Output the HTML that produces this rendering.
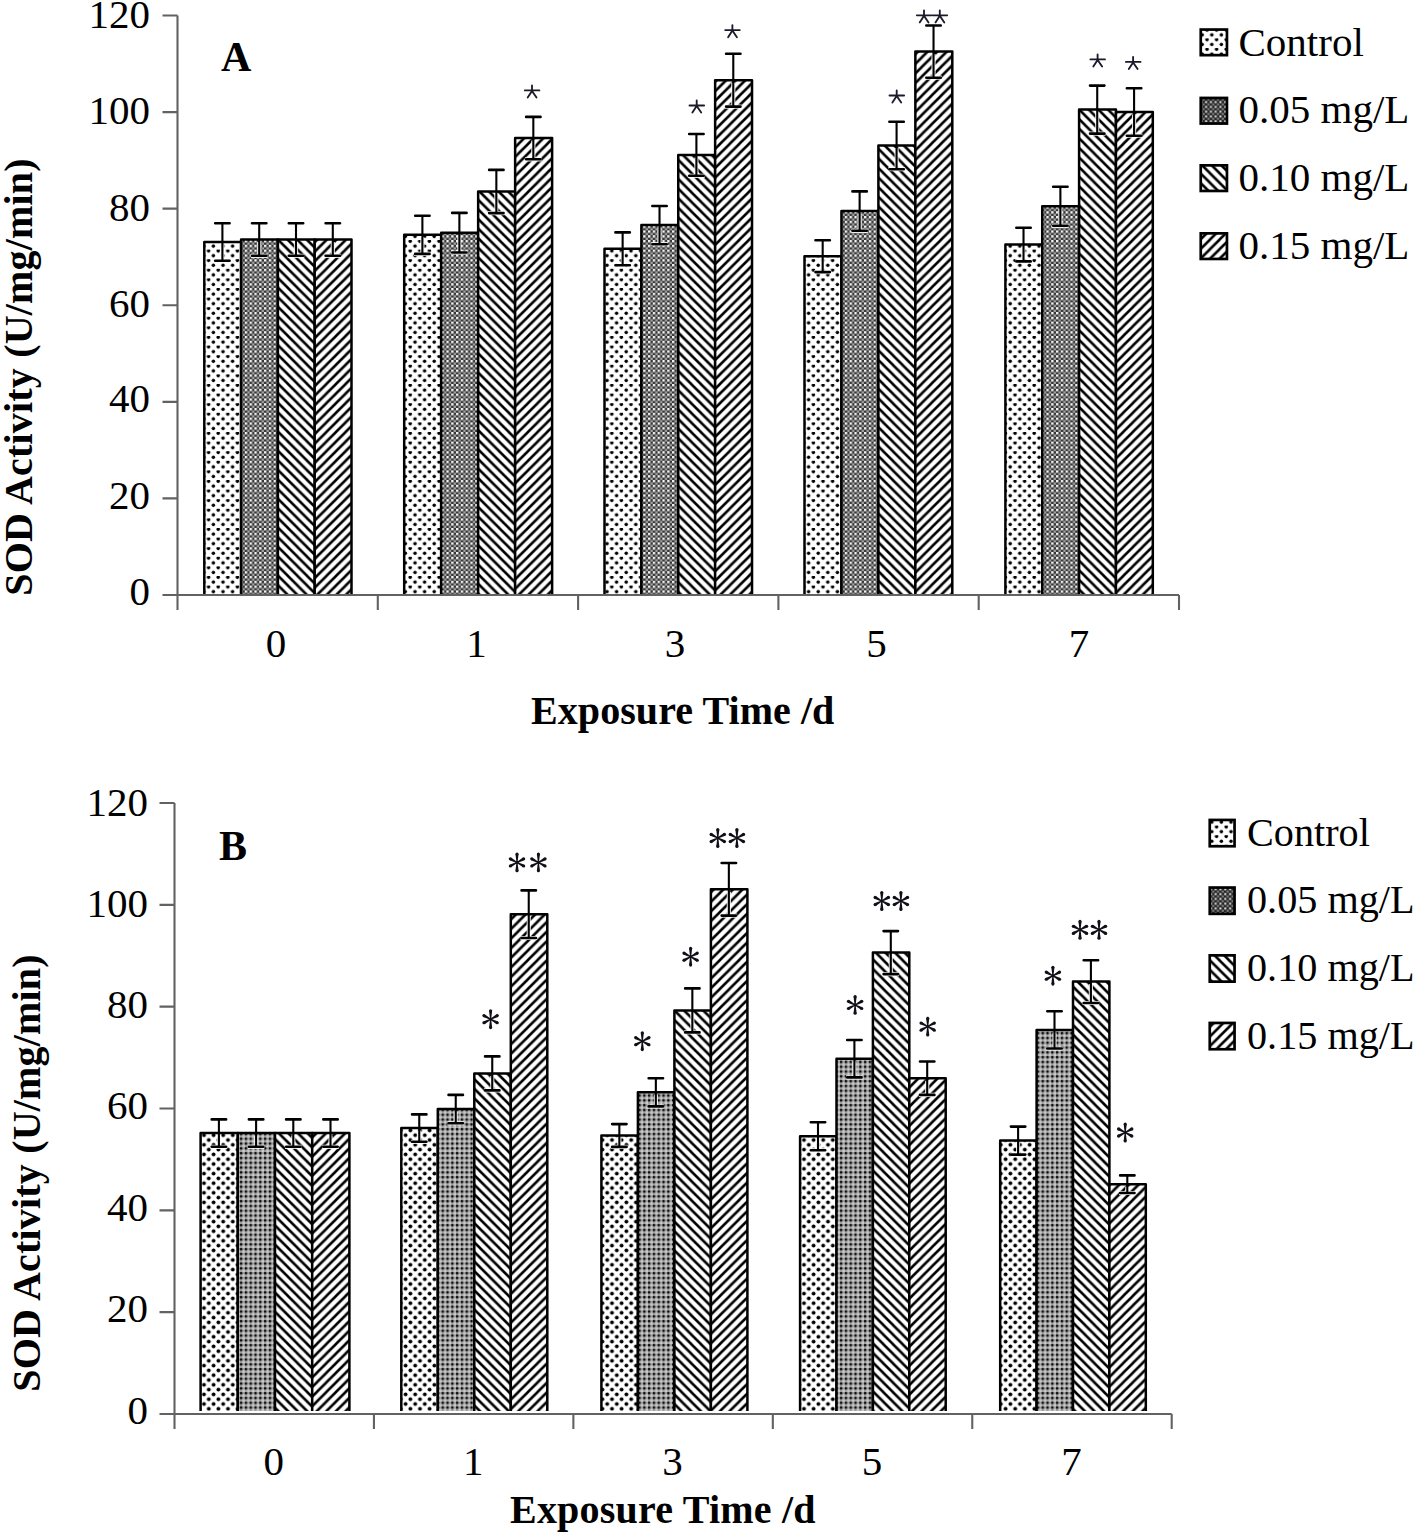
<!DOCTYPE html>
<html><head><meta charset="utf-8"><title>SOD Activity</title>
<style>
html,body{margin:0;padding:0;background:#fff;}
body{width:1417px;height:1536px;overflow:hidden;}
svg{display:block;font-family:"Liberation Serif", serif;}
text{fill:#000;}
</style></head><body>
<svg width="1417" height="1536" viewBox="0 0 1417 1536">
<defs>
<pattern id="pDot" patternUnits="userSpaceOnUse" width="9.6" height="9.6">
<rect width="9.6" height="9.6" fill="#fff"/>
<circle cx="2.2" cy="6.1" r="1.75" fill="#000"/><circle cx="7.0" cy="1.3" r="1.75" fill="#000"/>
</pattern>
<pattern id="pDotB" patternUnits="userSpaceOnUse" width="9.6" height="9.6">
<rect width="9.6" height="9.6" fill="#fff"/>
<circle cx="2.4" cy="2.4" r="1.95" fill="#000"/><circle cx="7.2" cy="7.2" r="1.95" fill="#000"/>
</pattern>
<pattern id="pDense" patternUnits="userSpaceOnUse" width="4.8" height="4.8">
<rect width="4.8" height="4.8" fill="#363636"/>
<rect x="0" y="0" width="2.4" height="2.4" fill="#f4f4f4"/>
<rect x="2.4" y="2.4" width="2.4" height="2.4" fill="#a0a0a0"/>
</pattern>
<pattern id="pDenseL" patternUnits="userSpaceOnUse" width="4.8" height="4.8">
<rect width="4.8" height="4.8" fill="#262626"/>
<rect x="0.3" y="0.3" width="2.0" height="2.0" fill="#e8e8e8"/>
<rect x="2.6" y="2.6" width="2.0" height="2.0" fill="#888"/>
</pattern>
<pattern id="pDenseB" patternUnits="userSpaceOnUse" width="4.8" height="4.8">
<rect width="4.8" height="4.8" fill="#9e9e9e"/>
<rect x="2.4" y="2.4" width="2.4" height="2.4" fill="#cccccc"/>
<circle cx="1.2" cy="1.2" r="1.25" fill="#080808"/>
</pattern>
<pattern id="pBack" patternUnits="userSpaceOnUse" width="9.6" height="9.6">
<rect width="9.6" height="9.6" fill="#fff"/>
<path d="M-2 -2L11.6 11.6M-2 7.6L2 11.6M7.6 -2L11.6 2" stroke="#000" stroke-width="2.6"/>
</pattern>
<pattern id="pFwd" patternUnits="userSpaceOnUse" width="9.6" height="9.6">
<rect width="9.6" height="9.6" fill="#fff"/>
<path d="M-2 11.6L11.6 -2M-2 2L2 -2M7.6 11.6L11.6 7.6" stroke="#000" stroke-width="2.6"/>
</pattern>
</defs>
<rect width="1417" height="1536" fill="#fff"/>
<rect x="204.3" y="242" width="36.8" height="353" fill="url(#pDot)"/>
<path d="M204.3 595V242H241.1V595" stroke="#000" stroke-width="2.5" fill="none" stroke-linejoin="round"/>
<rect x="241.1" y="239.5" width="36.8" height="355.5" fill="url(#pDense)"/>
<path d="M241.1 595V239.5H277.9V595" stroke="#000" stroke-width="2.5" fill="none" stroke-linejoin="round"/>
<rect x="277.9" y="239.5" width="36.8" height="355.5" fill="url(#pBack)"/>
<path d="M277.9 595V239.5H314.7V595" stroke="#000" stroke-width="2.5" fill="none" stroke-linejoin="round"/>
<rect x="314.7" y="239.5" width="36.8" height="355.5" fill="url(#pFwd)"/>
<path d="M314.7 595V239.5H351.5V595" stroke="#000" stroke-width="2.5" fill="none" stroke-linejoin="round"/>
<rect x="404.2" y="234.8" width="36.98" height="360.2" fill="url(#pDot)"/>
<path d="M404.2 595V234.8H441.18V595" stroke="#000" stroke-width="2.5" fill="none" stroke-linejoin="round"/>
<rect x="441.18" y="232.7" width="36.98" height="362.3" fill="url(#pDense)"/>
<path d="M441.18 595V232.7H478.16V595" stroke="#000" stroke-width="2.5" fill="none" stroke-linejoin="round"/>
<rect x="478.16" y="191.5" width="36.98" height="403.5" fill="url(#pBack)"/>
<path d="M478.16 595V191.5H515.14V595" stroke="#000" stroke-width="2.5" fill="none" stroke-linejoin="round"/>
<rect x="515.14" y="138.1" width="36.98" height="456.9" fill="url(#pFwd)"/>
<path d="M515.14 595V138.1H552.12V595" stroke="#000" stroke-width="2.5" fill="none" stroke-linejoin="round"/>
<rect x="604.5" y="248.8" width="36.88" height="346.2" fill="url(#pDot)"/>
<path d="M604.5 595V248.8H641.38V595" stroke="#000" stroke-width="2.5" fill="none" stroke-linejoin="round"/>
<rect x="641.38" y="225.1" width="36.88" height="369.9" fill="url(#pDense)"/>
<path d="M641.38 595V225.1H678.26V595" stroke="#000" stroke-width="2.5" fill="none" stroke-linejoin="round"/>
<rect x="678.26" y="154.9" width="36.88" height="440.1" fill="url(#pBack)"/>
<path d="M678.26 595V154.9H715.14V595" stroke="#000" stroke-width="2.5" fill="none" stroke-linejoin="round"/>
<rect x="715.14" y="80.2" width="36.88" height="514.8" fill="url(#pFwd)"/>
<path d="M715.14 595V80.2H752.02V595" stroke="#000" stroke-width="2.5" fill="none" stroke-linejoin="round"/>
<rect x="804.5" y="256.2" width="36.95" height="338.8" fill="url(#pDot)"/>
<path d="M804.5 595V256.2H841.45V595" stroke="#000" stroke-width="2.5" fill="none" stroke-linejoin="round"/>
<rect x="841.45" y="211.1" width="36.95" height="383.9" fill="url(#pDense)"/>
<path d="M841.45 595V211.1H878.4V595" stroke="#000" stroke-width="2.5" fill="none" stroke-linejoin="round"/>
<rect x="878.4" y="145.5" width="36.95" height="449.5" fill="url(#pBack)"/>
<path d="M878.4 595V145.5H915.35V595" stroke="#000" stroke-width="2.5" fill="none" stroke-linejoin="round"/>
<rect x="915.35" y="51.6" width="36.95" height="543.4" fill="url(#pFwd)"/>
<path d="M915.35 595V51.6H952.3V595" stroke="#000" stroke-width="2.5" fill="none" stroke-linejoin="round"/>
<rect x="1005.4" y="244.6" width="36.85" height="350.4" fill="url(#pDot)"/>
<path d="M1005.4 595V244.6H1042.25V595" stroke="#000" stroke-width="2.5" fill="none" stroke-linejoin="round"/>
<rect x="1042.25" y="206.3" width="36.85" height="388.7" fill="url(#pDense)"/>
<path d="M1042.25 595V206.3H1079.1V595" stroke="#000" stroke-width="2.5" fill="none" stroke-linejoin="round"/>
<rect x="1079.1" y="109.6" width="36.85" height="485.4" fill="url(#pBack)"/>
<path d="M1079.1 595V109.6H1115.95V595" stroke="#000" stroke-width="2.5" fill="none" stroke-linejoin="round"/>
<rect x="1115.95" y="112" width="36.85" height="483" fill="url(#pFwd)"/>
<path d="M1115.95 595V112H1152.8V595" stroke="#000" stroke-width="2.5" fill="none" stroke-linejoin="round"/>
<path d="M222.4 244.5V260.8 M214.1 260.8H230.7" stroke="#fff" stroke-width="4.2" fill="none" opacity="0.85"/>
<path d="M222.4 223.2V260.8" stroke="#000" stroke-width="2.1" fill="none"/>
<path d="M215.2 223.2H229.6 M215.2 260.8H229.6" stroke="#000" stroke-width="2.6" stroke-linecap="round" fill="none"/>
<path d="M259.2 242V255.8 M250.9 255.8H267.5" stroke="#fff" stroke-width="4.2" fill="none" opacity="0.85"/>
<path d="M259.2 223.2V255.8" stroke="#000" stroke-width="2.1" fill="none"/>
<path d="M252 223.2H266.4 M252 255.8H266.4" stroke="#000" stroke-width="2.6" stroke-linecap="round" fill="none"/>
<path d="M296 242V255.8 M287.7 255.8H304.3" stroke="#fff" stroke-width="4.2" fill="none" opacity="0.85"/>
<path d="M296 223.2V255.8" stroke="#000" stroke-width="2.1" fill="none"/>
<path d="M288.8 223.2H303.2 M288.8 255.8H303.2" stroke="#000" stroke-width="2.6" stroke-linecap="round" fill="none"/>
<path d="M332.8 242V255.8 M324.5 255.8H341.1" stroke="#fff" stroke-width="4.2" fill="none" opacity="0.85"/>
<path d="M332.8 223.2V255.8" stroke="#000" stroke-width="2.1" fill="none"/>
<path d="M325.6 223.2H340 M325.6 255.8H340" stroke="#000" stroke-width="2.6" stroke-linecap="round" fill="none"/>
<path d="M422.39 237.3V253.9 M414.09 253.9H430.69" stroke="#fff" stroke-width="4.2" fill="none" opacity="0.85"/>
<path d="M422.39 215.7V253.9" stroke="#000" stroke-width="2.1" fill="none"/>
<path d="M415.19 215.7H429.59 M415.19 253.9H429.59" stroke="#000" stroke-width="2.6" stroke-linecap="round" fill="none"/>
<path d="M459.37 235.2V252.5 M451.07 252.5H467.67" stroke="#fff" stroke-width="4.2" fill="none" opacity="0.85"/>
<path d="M459.37 212.9V252.5" stroke="#000" stroke-width="2.1" fill="none"/>
<path d="M452.17 212.9H466.57 M452.17 252.5H466.57" stroke="#000" stroke-width="2.6" stroke-linecap="round" fill="none"/>
<path d="M496.35 194V213.1 M488.05 213.1H504.65" stroke="#fff" stroke-width="4.2" fill="none" opacity="0.85"/>
<path d="M496.35 169.9V213.1" stroke="#000" stroke-width="2.1" fill="none"/>
<path d="M489.15 169.9H503.55 M489.15 213.1H503.55" stroke="#000" stroke-width="2.6" stroke-linecap="round" fill="none"/>
<path d="M533.33 140.6V159.3 M525.03 159.3H541.63" stroke="#fff" stroke-width="4.2" fill="none" opacity="0.85"/>
<path d="M533.33 116.9V159.3" stroke="#000" stroke-width="2.1" fill="none"/>
<path d="M526.13 116.9H540.53 M526.13 159.3H540.53" stroke="#000" stroke-width="2.6" stroke-linecap="round" fill="none"/>
<path d="M622.64 251.3V265.2 M614.34 265.2H630.94" stroke="#fff" stroke-width="4.2" fill="none" opacity="0.85"/>
<path d="M622.64 232.4V265.2" stroke="#000" stroke-width="2.1" fill="none"/>
<path d="M615.44 232.4H629.84 M615.44 265.2H629.84" stroke="#000" stroke-width="2.6" stroke-linecap="round" fill="none"/>
<path d="M659.52 227.6V244.2 M651.22 244.2H667.82" stroke="#fff" stroke-width="4.2" fill="none" opacity="0.85"/>
<path d="M659.52 206V244.2" stroke="#000" stroke-width="2.1" fill="none"/>
<path d="M652.32 206H666.72 M652.32 244.2H666.72" stroke="#000" stroke-width="2.6" stroke-linecap="round" fill="none"/>
<path d="M696.4 157.4V175.8 M688.1 175.8H704.7" stroke="#fff" stroke-width="4.2" fill="none" opacity="0.85"/>
<path d="M696.4 134V175.8" stroke="#000" stroke-width="2.1" fill="none"/>
<path d="M689.2 134H703.6 M689.2 175.8H703.6" stroke="#000" stroke-width="2.6" stroke-linecap="round" fill="none"/>
<path d="M733.28 82.7V106.6 M724.98 106.6H741.58" stroke="#fff" stroke-width="4.2" fill="none" opacity="0.85"/>
<path d="M733.28 53.8V106.6" stroke="#000" stroke-width="2.1" fill="none"/>
<path d="M726.08 53.8H740.48 M726.08 106.6H740.48" stroke="#000" stroke-width="2.6" stroke-linecap="round" fill="none"/>
<path d="M822.68 258.7V272.1 M814.38 272.1H830.98" stroke="#fff" stroke-width="4.2" fill="none" opacity="0.85"/>
<path d="M822.68 240.3V272.1" stroke="#000" stroke-width="2.1" fill="none"/>
<path d="M815.48 240.3H829.88 M815.48 272.1H829.88" stroke="#000" stroke-width="2.6" stroke-linecap="round" fill="none"/>
<path d="M859.63 213.6V230.8 M851.33 230.8H867.93" stroke="#fff" stroke-width="4.2" fill="none" opacity="0.85"/>
<path d="M859.63 191.4V230.8" stroke="#000" stroke-width="2.1" fill="none"/>
<path d="M852.43 191.4H866.83 M852.43 230.8H866.83" stroke="#000" stroke-width="2.6" stroke-linecap="round" fill="none"/>
<path d="M896.58 148V169.2 M888.28 169.2H904.88" stroke="#fff" stroke-width="4.2" fill="none" opacity="0.85"/>
<path d="M896.58 121.8V169.2" stroke="#000" stroke-width="2.1" fill="none"/>
<path d="M889.38 121.8H903.78 M889.38 169.2H903.78" stroke="#000" stroke-width="2.6" stroke-linecap="round" fill="none"/>
<path d="M933.53 54.1V77.7 M925.23 77.7H941.83" stroke="#fff" stroke-width="4.2" fill="none" opacity="0.85"/>
<path d="M933.53 25.5V77.7" stroke="#000" stroke-width="2.1" fill="none"/>
<path d="M926.33 25.5H940.73 M926.33 77.7H940.73" stroke="#000" stroke-width="2.6" stroke-linecap="round" fill="none"/>
<path d="M1023.52 247.1V261.4 M1015.23 261.4H1031.83" stroke="#fff" stroke-width="4.2" fill="none" opacity="0.85"/>
<path d="M1023.52 227.8V261.4" stroke="#000" stroke-width="2.1" fill="none"/>
<path d="M1016.32 227.8H1030.72 M1016.32 261.4H1030.72" stroke="#000" stroke-width="2.6" stroke-linecap="round" fill="none"/>
<path d="M1060.38 208.8V225.8 M1052.08 225.8H1068.67" stroke="#fff" stroke-width="4.2" fill="none" opacity="0.85"/>
<path d="M1060.38 186.8V225.8" stroke="#000" stroke-width="2.1" fill="none"/>
<path d="M1053.17 186.8H1067.58 M1053.17 225.8H1067.58" stroke="#000" stroke-width="2.6" stroke-linecap="round" fill="none"/>
<path d="M1097.22 112.1V133.6 M1088.92 133.6H1105.52" stroke="#fff" stroke-width="4.2" fill="none" opacity="0.85"/>
<path d="M1097.22 85.6V133.6" stroke="#000" stroke-width="2.1" fill="none"/>
<path d="M1090.02 85.6H1104.42 M1090.02 133.6H1104.42" stroke="#000" stroke-width="2.6" stroke-linecap="round" fill="none"/>
<path d="M1134.08 114.5V135.7 M1125.78 135.7H1142.38" stroke="#fff" stroke-width="4.2" fill="none" opacity="0.85"/>
<path d="M1134.08 88.3V135.7" stroke="#000" stroke-width="2.1" fill="none"/>
<path d="M1126.88 88.3H1141.28 M1126.88 135.7H1141.28" stroke="#000" stroke-width="2.6" stroke-linecap="round" fill="none"/>
<path d="M177.5 15.5V610M162.5 595H1179M162.5 595H177.5M162.5 498.42H177.5M162.5 401.83H177.5M162.5 305.25H177.5M162.5 208.67H177.5M162.5 112.08H177.5M162.5 15.5H177.5M377.8 595V610M578.1 595V610M778.4 595V610M978.7 595V610M1179 595V610" stroke="#626262" stroke-width="2.1" fill="none"/>
<text x="150" y="604.9" text-anchor="end" font-size="41">0</text>
<text x="150" y="508.8" text-anchor="end" font-size="41">20</text>
<text x="150" y="411.7" text-anchor="end" font-size="41">40</text>
<text x="150" y="317.4" text-anchor="end" font-size="41">60</text>
<text x="150" y="220.8" text-anchor="end" font-size="41">80</text>
<text x="150" y="124.4" text-anchor="end" font-size="41">100</text>
<text x="150" y="27.9" text-anchor="end" font-size="41">120</text>
<text x="276" y="657" text-anchor="middle" font-size="41">0</text>
<text x="476.5" y="657" text-anchor="middle" font-size="41">1</text>
<text x="675" y="657" text-anchor="middle" font-size="41">3</text>
<text x="876.6" y="657" text-anchor="middle" font-size="41">5</text>
<text x="1079" y="657" text-anchor="middle" font-size="41">7</text>
<path d="M532 91.7L532 85.4M524.8 90.4L539.4 90.4M532 90.9L527.7 97.5M532 90.9L536.5 97.5" stroke="#1a1a2a" stroke-width="1.85" stroke-linecap="round" fill="none"/>
<path d="M696.7 106.8L696.7 100.5M689.5 105.5L704.1 105.5M696.7 106L692.4 112.6M696.7 106L701.2 112.6" stroke="#1a1a2a" stroke-width="1.85" stroke-linecap="round" fill="none"/>
<path d="M732.4 31.4L732.4 25.1M725.2 30.1L739.8 30.1M732.4 30.6L728.1 37.2M732.4 30.6L736.9 37.2" stroke="#1a1a2a" stroke-width="1.85" stroke-linecap="round" fill="none"/>
<path d="M896.7 96.8L896.7 90.5M889.5 95.5L904.1 95.5M896.7 96L892.4 102.6M896.7 96L901.2 102.6" stroke="#1a1a2a" stroke-width="1.85" stroke-linecap="round" fill="none"/>
<path d="M924 16.6L924 10.3M916.8 15.3L931.4 15.3M924 15.8L919.7 22.4M924 15.8L928.5 22.4" stroke="#1a1a2a" stroke-width="1.85" stroke-linecap="round" fill="none"/>
<path d="M939.8 16.6L939.8 10.3M932.6 15.3L947.2 15.3M939.8 15.8L935.5 22.4M939.8 15.8L944.3 22.4" stroke="#1a1a2a" stroke-width="1.85" stroke-linecap="round" fill="none"/>
<path d="M1097.6 60.7L1097.6 54.4M1090.4 59.4L1105 59.4M1097.6 59.9L1093.3 66.5M1097.6 59.9L1102.1 66.5" stroke="#1a1a2a" stroke-width="1.85" stroke-linecap="round" fill="none"/>
<path d="M1133.1 63.2L1133.1 56.9M1125.9 61.9L1140.5 61.9M1133.1 62.4L1128.8 69M1133.1 62.4L1137.6 69" stroke="#1a1a2a" stroke-width="1.85" stroke-linecap="round" fill="none"/>
<text x="221" y="70.5" font-size="42" font-weight="bold">A</text>
<text transform="translate(32 377) rotate(-90)" text-anchor="middle" font-size="40" font-weight="bold" letter-spacing="0.18">SOD Activity (U/mg/min)</text>
<text x="531" y="723.7" font-size="40" font-weight="bold" letter-spacing="0.07">Exposure Time /d</text>
<rect x="1200.75" y="29.55" width="26.2" height="25.6" fill="url(#pDot)" stroke="#000" stroke-width="2.7"/>
<text x="1238.5" y="55.5" font-size="41">Control</text>
<rect x="1200.75" y="97.95" width="26.2" height="25.6" fill="url(#pDenseL)" stroke="#000" stroke-width="2.7"/>
<text x="1238.5" y="123.3" font-size="41">0.05 mg/L</text>
<rect x="1200.75" y="165.35" width="26.2" height="25.6" fill="url(#pBack)" stroke="#000" stroke-width="2.7"/>
<text x="1238.5" y="190.8" font-size="41">0.10 mg/L</text>
<rect x="1200.75" y="233.35" width="26.2" height="25.6" fill="url(#pFwd)" stroke="#000" stroke-width="2.7"/>
<text x="1238.5" y="258.6" font-size="41">0.15 mg/L</text>
<rect x="200.6" y="1133.1" width="37.2" height="277.9" fill="url(#pDotB)"/>
<path d="M200.6 1411V1133.1H237.8V1411" stroke="#000" stroke-width="2.5" fill="none" stroke-linejoin="round"/>
<rect x="237.8" y="1133.1" width="37.2" height="277.9" fill="url(#pDenseB)"/>
<path d="M237.8 1411V1133.1H275V1411" stroke="#000" stroke-width="2.5" fill="none" stroke-linejoin="round"/>
<rect x="275" y="1133.1" width="37.2" height="277.9" fill="url(#pBack)"/>
<path d="M275 1411V1133.1H312.2V1411" stroke="#000" stroke-width="2.5" fill="none" stroke-linejoin="round"/>
<rect x="312.2" y="1133.1" width="37.2" height="277.9" fill="url(#pFwd)"/>
<path d="M312.2 1411V1133.1H349.4V1411" stroke="#000" stroke-width="2.5" fill="none" stroke-linejoin="round"/>
<rect x="401.3" y="1128.1" width="36.5" height="282.9" fill="url(#pDotB)"/>
<path d="M401.3 1411V1128.1H437.8V1411" stroke="#000" stroke-width="2.5" fill="none" stroke-linejoin="round"/>
<rect x="437.8" y="1109.1" width="36.5" height="301.9" fill="url(#pDenseB)"/>
<path d="M437.8 1411V1109.1H474.3V1411" stroke="#000" stroke-width="2.5" fill="none" stroke-linejoin="round"/>
<rect x="474.3" y="1073.4" width="36.5" height="337.6" fill="url(#pBack)"/>
<path d="M474.3 1411V1073.4H510.8V1411" stroke="#000" stroke-width="2.5" fill="none" stroke-linejoin="round"/>
<rect x="510.8" y="914.2" width="36.5" height="496.8" fill="url(#pFwd)"/>
<path d="M510.8 1411V914.2H547.3V1411" stroke="#000" stroke-width="2.5" fill="none" stroke-linejoin="round"/>
<rect x="601.4" y="1135.5" width="36.5" height="275.5" fill="url(#pDotB)"/>
<path d="M601.4 1411V1135.5H637.9V1411" stroke="#000" stroke-width="2.5" fill="none" stroke-linejoin="round"/>
<rect x="637.9" y="1092.3" width="36.5" height="318.7" fill="url(#pDenseB)"/>
<path d="M637.9 1411V1092.3H674.4V1411" stroke="#000" stroke-width="2.5" fill="none" stroke-linejoin="round"/>
<rect x="674.4" y="1010.4" width="36.5" height="400.6" fill="url(#pBack)"/>
<path d="M674.4 1411V1010.4H710.9V1411" stroke="#000" stroke-width="2.5" fill="none" stroke-linejoin="round"/>
<rect x="710.9" y="889.3" width="36.5" height="521.7" fill="url(#pFwd)"/>
<path d="M710.9 1411V889.3H747.4V1411" stroke="#000" stroke-width="2.5" fill="none" stroke-linejoin="round"/>
<rect x="800.1" y="1136.2" width="36.4" height="274.8" fill="url(#pDotB)"/>
<path d="M800.1 1411V1136.2H836.5V1411" stroke="#000" stroke-width="2.5" fill="none" stroke-linejoin="round"/>
<rect x="836.5" y="1058.7" width="36.4" height="352.3" fill="url(#pDenseB)"/>
<path d="M836.5 1411V1058.7H872.9V1411" stroke="#000" stroke-width="2.5" fill="none" stroke-linejoin="round"/>
<rect x="872.9" y="952.6" width="36.4" height="458.4" fill="url(#pBack)"/>
<path d="M872.9 1411V952.6H909.3V1411" stroke="#000" stroke-width="2.5" fill="none" stroke-linejoin="round"/>
<rect x="909.3" y="1078.2" width="36.4" height="332.8" fill="url(#pFwd)"/>
<path d="M909.3 1411V1078.2H945.7V1411" stroke="#000" stroke-width="2.5" fill="none" stroke-linejoin="round"/>
<rect x="1000.2" y="1140.6" width="36.4" height="270.4" fill="url(#pDotB)"/>
<path d="M1000.2 1411V1140.6H1036.6V1411" stroke="#000" stroke-width="2.5" fill="none" stroke-linejoin="round"/>
<rect x="1036.6" y="1029.9" width="36.4" height="381.1" fill="url(#pDenseB)"/>
<path d="M1036.6 1411V1029.9H1073V1411" stroke="#000" stroke-width="2.5" fill="none" stroke-linejoin="round"/>
<rect x="1073" y="981.6" width="36.4" height="429.4" fill="url(#pBack)"/>
<path d="M1073 1411V981.6H1109.4V1411" stroke="#000" stroke-width="2.5" fill="none" stroke-linejoin="round"/>
<rect x="1109.4" y="1184.2" width="36.4" height="226.8" fill="url(#pFwd)"/>
<path d="M1109.4 1411V1184.2H1145.8V1411" stroke="#000" stroke-width="2.5" fill="none" stroke-linejoin="round"/>
<path d="M218.9 1135.6V1146.8 M210.6 1146.8H227.2" stroke="#fff" stroke-width="4.2" fill="none" opacity="0.85"/>
<path d="M218.9 1119.4V1146.8" stroke="#000" stroke-width="2.1" fill="none"/>
<path d="M211.7 1119.4H226.1 M211.7 1146.8H226.1" stroke="#000" stroke-width="2.6" stroke-linecap="round" fill="none"/>
<path d="M256.1 1135.6V1146.8 M247.8 1146.8H264.4" stroke="#fff" stroke-width="4.2" fill="none" opacity="0.85"/>
<path d="M256.1 1119.4V1146.8" stroke="#000" stroke-width="2.1" fill="none"/>
<path d="M248.9 1119.4H263.3 M248.9 1146.8H263.3" stroke="#000" stroke-width="2.6" stroke-linecap="round" fill="none"/>
<path d="M293.3 1135.6V1146.8 M285 1146.8H301.6" stroke="#fff" stroke-width="4.2" fill="none" opacity="0.85"/>
<path d="M293.3 1119.4V1146.8" stroke="#000" stroke-width="2.1" fill="none"/>
<path d="M286.1 1119.4H300.5 M286.1 1146.8H300.5" stroke="#000" stroke-width="2.6" stroke-linecap="round" fill="none"/>
<path d="M330.5 1135.6V1146.8 M322.2 1146.8H338.8" stroke="#fff" stroke-width="4.2" fill="none" opacity="0.85"/>
<path d="M330.5 1119.4V1146.8" stroke="#000" stroke-width="2.1" fill="none"/>
<path d="M323.3 1119.4H337.7 M323.3 1146.8H337.7" stroke="#000" stroke-width="2.6" stroke-linecap="round" fill="none"/>
<path d="M419.25 1130.6V1141.8 M410.95 1141.8H427.55" stroke="#fff" stroke-width="4.2" fill="none" opacity="0.85"/>
<path d="M419.25 1114.4V1141.8" stroke="#000" stroke-width="2.1" fill="none"/>
<path d="M412.05 1114.4H426.45 M412.05 1141.8H426.45" stroke="#000" stroke-width="2.6" stroke-linecap="round" fill="none"/>
<path d="M455.75 1111.6V1123.3 M447.45 1123.3H464.05" stroke="#fff" stroke-width="4.2" fill="none" opacity="0.85"/>
<path d="M455.75 1094.9V1123.3" stroke="#000" stroke-width="2.1" fill="none"/>
<path d="M448.55 1094.9H462.95 M448.55 1123.3H462.95" stroke="#000" stroke-width="2.6" stroke-linecap="round" fill="none"/>
<path d="M492.25 1075.9V1090.4 M483.95 1090.4H500.55" stroke="#fff" stroke-width="4.2" fill="none" opacity="0.85"/>
<path d="M492.25 1056.4V1090.4" stroke="#000" stroke-width="2.1" fill="none"/>
<path d="M485.05 1056.4H499.45 M485.05 1090.4H499.45" stroke="#000" stroke-width="2.6" stroke-linecap="round" fill="none"/>
<path d="M528.75 916.7V938 M520.45 938H537.05" stroke="#fff" stroke-width="4.2" fill="none" opacity="0.85"/>
<path d="M528.75 890.4V938" stroke="#000" stroke-width="2.1" fill="none"/>
<path d="M521.55 890.4H535.95 M521.55 938H535.95" stroke="#000" stroke-width="2.6" stroke-linecap="round" fill="none"/>
<path d="M619.35 1138V1146.9 M611.05 1146.9H627.65" stroke="#fff" stroke-width="4.2" fill="none" opacity="0.85"/>
<path d="M619.35 1124.1V1146.9" stroke="#000" stroke-width="2.1" fill="none"/>
<path d="M612.15 1124.1H626.55 M612.15 1146.9H626.55" stroke="#000" stroke-width="2.6" stroke-linecap="round" fill="none"/>
<path d="M655.85 1094.8V1106.4 M647.55 1106.4H664.15" stroke="#fff" stroke-width="4.2" fill="none" opacity="0.85"/>
<path d="M655.85 1078.2V1106.4" stroke="#000" stroke-width="2.1" fill="none"/>
<path d="M648.65 1078.2H663.05 M648.65 1106.4H663.05" stroke="#000" stroke-width="2.6" stroke-linecap="round" fill="none"/>
<path d="M692.35 1012.9V1032.4 M684.05 1032.4H700.65" stroke="#fff" stroke-width="4.2" fill="none" opacity="0.85"/>
<path d="M692.35 988.4V1032.4" stroke="#000" stroke-width="2.1" fill="none"/>
<path d="M685.15 988.4H699.55 M685.15 1032.4H699.55" stroke="#000" stroke-width="2.6" stroke-linecap="round" fill="none"/>
<path d="M728.85 891.8V915.6 M720.55 915.6H737.15" stroke="#fff" stroke-width="4.2" fill="none" opacity="0.85"/>
<path d="M728.85 863V915.6" stroke="#000" stroke-width="2.1" fill="none"/>
<path d="M721.65 863H736.05 M721.65 915.6H736.05" stroke="#000" stroke-width="2.6" stroke-linecap="round" fill="none"/>
<path d="M818 1138.7V1150.2 M809.7 1150.2H826.3" stroke="#fff" stroke-width="4.2" fill="none" opacity="0.85"/>
<path d="M818 1122.2V1150.2" stroke="#000" stroke-width="2.1" fill="none"/>
<path d="M810.8 1122.2H825.2 M810.8 1150.2H825.2" stroke="#000" stroke-width="2.6" stroke-linecap="round" fill="none"/>
<path d="M854.4 1061.2V1077.4 M846.1 1077.4H862.7" stroke="#fff" stroke-width="4.2" fill="none" opacity="0.85"/>
<path d="M854.4 1040V1077.4" stroke="#000" stroke-width="2.1" fill="none"/>
<path d="M847.2 1040H861.6 M847.2 1077.4H861.6" stroke="#000" stroke-width="2.6" stroke-linecap="round" fill="none"/>
<path d="M890.8 955.1V974.1 M882.5 974.1H899.1" stroke="#fff" stroke-width="4.2" fill="none" opacity="0.85"/>
<path d="M890.8 931.1V974.1" stroke="#000" stroke-width="2.1" fill="none"/>
<path d="M883.6 931.1H898 M883.6 974.1H898" stroke="#000" stroke-width="2.6" stroke-linecap="round" fill="none"/>
<path d="M927.2 1080.7V1094.9 M918.9 1094.9H935.5" stroke="#fff" stroke-width="4.2" fill="none" opacity="0.85"/>
<path d="M927.2 1061.5V1094.9" stroke="#000" stroke-width="2.1" fill="none"/>
<path d="M920 1061.5H934.4 M920 1094.9H934.4" stroke="#000" stroke-width="2.6" stroke-linecap="round" fill="none"/>
<path d="M1018.1 1143.1V1154.6 M1009.8 1154.6H1026.4" stroke="#fff" stroke-width="4.2" fill="none" opacity="0.85"/>
<path d="M1018.1 1126.6V1154.6" stroke="#000" stroke-width="2.1" fill="none"/>
<path d="M1010.9 1126.6H1025.3 M1010.9 1154.6H1025.3" stroke="#000" stroke-width="2.6" stroke-linecap="round" fill="none"/>
<path d="M1054.5 1032.4V1048.5 M1046.2 1048.5H1062.8" stroke="#fff" stroke-width="4.2" fill="none" opacity="0.85"/>
<path d="M1054.5 1011.3V1048.5" stroke="#000" stroke-width="2.1" fill="none"/>
<path d="M1047.3 1011.3H1061.7 M1047.3 1048.5H1061.7" stroke="#000" stroke-width="2.6" stroke-linecap="round" fill="none"/>
<path d="M1090.9 984.1V1003 M1082.6 1003H1099.2" stroke="#fff" stroke-width="4.2" fill="none" opacity="0.85"/>
<path d="M1090.9 960.2V1003" stroke="#000" stroke-width="2.1" fill="none"/>
<path d="M1083.7 960.2H1098.1 M1083.7 1003H1098.1" stroke="#000" stroke-width="2.6" stroke-linecap="round" fill="none"/>
<path d="M1127.3 1186.7V1193 M1119 1193H1135.6" stroke="#fff" stroke-width="4.2" fill="none" opacity="0.85"/>
<path d="M1127.3 1175.4V1193" stroke="#000" stroke-width="2.1" fill="none"/>
<path d="M1120.1 1175.4H1134.5 M1120.1 1193H1134.5" stroke="#000" stroke-width="2.6" stroke-linecap="round" fill="none"/>
<path d="M174.5 803V1429M159.5 1414H1171.7M159.5 1414H174.5M159.5 1312.17H174.5M159.5 1210.33H174.5M159.5 1108.5H174.5M159.5 1006.67H174.5M159.5 904.83H174.5M159.5 803H174.5M373.94 1414V1429M573.38 1414V1429M772.82 1414V1429M972.26 1414V1429M1171.7 1414V1429" stroke="#626262" stroke-width="2.1" fill="none"/>
<text x="148" y="1423.9" text-anchor="end" font-size="41">0</text>
<text x="148" y="1322.3" text-anchor="end" font-size="41">20</text>
<text x="148" y="1220.6" text-anchor="end" font-size="41">40</text>
<text x="148" y="1119" text-anchor="end" font-size="41">60</text>
<text x="148" y="1018.2" text-anchor="end" font-size="41">80</text>
<text x="148" y="916.6" text-anchor="end" font-size="41">100</text>
<text x="148" y="815.6" text-anchor="end" font-size="41">120</text>
<text x="273.7" y="1475.3" text-anchor="middle" font-size="41">0</text>
<text x="473.2" y="1475.3" text-anchor="middle" font-size="41">1</text>
<text x="672.6" y="1475.3" text-anchor="middle" font-size="41">3</text>
<text x="872" y="1475.3" text-anchor="middle" font-size="41">5</text>
<text x="1071.5" y="1475.3" text-anchor="middle" font-size="41">7</text>
<g fill="#101018"><path d="M491.15 1019.2L492.15 1010.8L489.05 1010.8L490.05 1019.2ZM490.05 1019.2L489.05 1027.6L492.15 1027.6L491.15 1019.2ZM490.86 1018.72L484.63 1014.23L483.17 1016.97L490.34 1019.68ZM490.86 1019.68L498.03 1016.97L496.57 1014.23L490.34 1018.72ZM490.34 1018.72L483.17 1021.43L484.63 1024.17L490.86 1019.68ZM490.34 1019.68L496.57 1024.17L498.03 1021.43L490.86 1018.72Z"/><circle cx="490.6" cy="1010.8" r="1.55"/><circle cx="490.6" cy="1027.6" r="1.55"/><circle cx="483.9" cy="1015.6" r="1.55"/><circle cx="497.3" cy="1015.6" r="1.55"/><circle cx="483.9" cy="1022.8" r="1.55"/><circle cx="497.3" cy="1022.8" r="1.55"/><circle cx="490.6" cy="1019.2" r="1.35"/></g>
<g fill="#101018"><path d="M517.55 862.4L518.55 854L515.45 854L516.45 862.4ZM516.45 862.4L515.45 870.8L518.55 870.8L517.55 862.4ZM517.26 861.92L511.03 857.43L509.57 860.17L516.74 862.88ZM517.26 862.88L524.43 860.17L522.97 857.43L516.74 861.92ZM516.74 861.92L509.57 864.63L511.03 867.37L517.26 862.88ZM516.74 862.88L522.97 867.37L524.43 864.63L517.26 861.92Z"/><circle cx="517" cy="854" r="1.55"/><circle cx="517" cy="870.8" r="1.55"/><circle cx="510.3" cy="858.8" r="1.55"/><circle cx="523.7" cy="858.8" r="1.55"/><circle cx="510.3" cy="866" r="1.55"/><circle cx="523.7" cy="866" r="1.55"/><circle cx="517" cy="862.4" r="1.35"/></g>
<g fill="#101018"><path d="M538.95 862.4L539.95 854L536.85 854L537.85 862.4ZM537.85 862.4L536.85 870.8L539.95 870.8L538.95 862.4ZM538.66 861.92L532.43 857.43L530.97 860.17L538.14 862.88ZM538.66 862.88L545.83 860.17L544.37 857.43L538.14 861.92ZM538.14 861.92L530.97 864.63L532.43 867.37L538.66 862.88ZM538.14 862.88L544.37 867.37L545.83 864.63L538.66 861.92Z"/><circle cx="538.4" cy="854" r="1.55"/><circle cx="538.4" cy="870.8" r="1.55"/><circle cx="531.7" cy="858.8" r="1.55"/><circle cx="545.1" cy="858.8" r="1.55"/><circle cx="531.7" cy="866" r="1.55"/><circle cx="545.1" cy="866" r="1.55"/><circle cx="538.4" cy="862.4" r="1.35"/></g>
<g fill="#101018"><path d="M642.85 1041.2L643.85 1032.8L640.75 1032.8L641.75 1041.2ZM641.75 1041.2L640.75 1049.6L643.85 1049.6L642.85 1041.2ZM642.56 1040.72L636.33 1036.23L634.87 1038.97L642.04 1041.68ZM642.56 1041.68L649.73 1038.97L648.27 1036.23L642.04 1040.72ZM642.04 1040.72L634.87 1043.43L636.33 1046.17L642.56 1041.68ZM642.04 1041.68L648.27 1046.17L649.73 1043.43L642.56 1040.72Z"/><circle cx="642.3" cy="1032.8" r="1.55"/><circle cx="642.3" cy="1049.6" r="1.55"/><circle cx="635.6" cy="1037.6" r="1.55"/><circle cx="649" cy="1037.6" r="1.55"/><circle cx="635.6" cy="1044.8" r="1.55"/><circle cx="649" cy="1044.8" r="1.55"/><circle cx="642.3" cy="1041.2" r="1.35"/></g>
<g fill="#101018"><path d="M691.15 956.7L692.15 948.3L689.05 948.3L690.05 956.7ZM690.05 956.7L689.05 965.1L692.15 965.1L691.15 956.7ZM690.86 956.22L684.63 951.73L683.17 954.47L690.34 957.18ZM690.86 957.18L698.03 954.47L696.57 951.73L690.34 956.22ZM690.34 956.22L683.17 958.93L684.63 961.67L690.86 957.18ZM690.34 957.18L696.57 961.67L698.03 958.93L690.86 956.22Z"/><circle cx="690.6" cy="948.3" r="1.55"/><circle cx="690.6" cy="965.1" r="1.55"/><circle cx="683.9" cy="953.1" r="1.55"/><circle cx="697.3" cy="953.1" r="1.55"/><circle cx="683.9" cy="960.3" r="1.55"/><circle cx="697.3" cy="960.3" r="1.55"/><circle cx="690.6" cy="956.7" r="1.35"/></g>
<g fill="#101018"><path d="M718.35 838L719.35 829.6L716.25 829.6L717.25 838ZM717.25 838L716.25 846.4L719.35 846.4L718.35 838ZM718.06 837.52L711.83 833.03L710.37 835.77L717.54 838.48ZM718.06 838.48L725.23 835.77L723.77 833.03L717.54 837.52ZM717.54 837.52L710.37 840.23L711.83 842.97L718.06 838.48ZM717.54 838.48L723.77 842.97L725.23 840.23L718.06 837.52Z"/><circle cx="717.8" cy="829.6" r="1.55"/><circle cx="717.8" cy="846.4" r="1.55"/><circle cx="711.1" cy="834.4" r="1.55"/><circle cx="724.5" cy="834.4" r="1.55"/><circle cx="711.1" cy="841.6" r="1.55"/><circle cx="724.5" cy="841.6" r="1.55"/><circle cx="717.8" cy="838" r="1.35"/></g>
<g fill="#101018"><path d="M737.45 838L738.45 829.6L735.35 829.6L736.35 838ZM736.35 838L735.35 846.4L738.45 846.4L737.45 838ZM737.16 837.52L730.93 833.03L729.47 835.77L736.64 838.48ZM737.16 838.48L744.33 835.77L742.87 833.03L736.64 837.52ZM736.64 837.52L729.47 840.23L730.93 842.97L737.16 838.48ZM736.64 838.48L742.87 842.97L744.33 840.23L737.16 837.52Z"/><circle cx="736.9" cy="829.6" r="1.55"/><circle cx="736.9" cy="846.4" r="1.55"/><circle cx="730.2" cy="834.4" r="1.55"/><circle cx="743.6" cy="834.4" r="1.55"/><circle cx="730.2" cy="841.6" r="1.55"/><circle cx="743.6" cy="841.6" r="1.55"/><circle cx="736.9" cy="838" r="1.35"/></g>
<g fill="#101018"><path d="M855.65 1004.9L856.65 996.5L853.55 996.5L854.55 1004.9ZM854.55 1004.9L853.55 1013.3L856.65 1013.3L855.65 1004.9ZM855.36 1004.42L849.13 999.93L847.67 1002.67L854.84 1005.38ZM855.36 1005.38L862.53 1002.67L861.07 999.93L854.84 1004.42ZM854.84 1004.42L847.67 1007.13L849.13 1009.87L855.36 1005.38ZM854.84 1005.38L861.07 1009.87L862.53 1007.13L855.36 1004.42Z"/><circle cx="855.1" cy="996.5" r="1.55"/><circle cx="855.1" cy="1013.3" r="1.55"/><circle cx="848.4" cy="1001.3" r="1.55"/><circle cx="861.8" cy="1001.3" r="1.55"/><circle cx="848.4" cy="1008.5" r="1.55"/><circle cx="861.8" cy="1008.5" r="1.55"/><circle cx="855.1" cy="1004.9" r="1.35"/></g>
<g fill="#101018"><path d="M882.35 901L883.35 892.6L880.25 892.6L881.25 901ZM881.25 901L880.25 909.4L883.35 909.4L882.35 901ZM882.06 900.52L875.83 896.03L874.37 898.77L881.54 901.48ZM882.06 901.48L889.23 898.77L887.77 896.03L881.54 900.52ZM881.54 900.52L874.37 903.23L875.83 905.97L882.06 901.48ZM881.54 901.48L887.77 905.97L889.23 903.23L882.06 900.52Z"/><circle cx="881.8" cy="892.6" r="1.55"/><circle cx="881.8" cy="909.4" r="1.55"/><circle cx="875.1" cy="897.4" r="1.55"/><circle cx="888.5" cy="897.4" r="1.55"/><circle cx="875.1" cy="904.6" r="1.55"/><circle cx="888.5" cy="904.6" r="1.55"/><circle cx="881.8" cy="901" r="1.35"/></g>
<g fill="#101018"><path d="M901.45 901L902.45 892.6L899.35 892.6L900.35 901ZM900.35 901L899.35 909.4L902.45 909.4L901.45 901ZM901.16 900.52L894.93 896.03L893.47 898.77L900.64 901.48ZM901.16 901.48L908.33 898.77L906.87 896.03L900.64 900.52ZM900.64 900.52L893.47 903.23L894.93 905.97L901.16 901.48ZM900.64 901.48L906.87 905.97L908.33 903.23L901.16 900.52Z"/><circle cx="900.9" cy="892.6" r="1.55"/><circle cx="900.9" cy="909.4" r="1.55"/><circle cx="894.2" cy="897.4" r="1.55"/><circle cx="907.6" cy="897.4" r="1.55"/><circle cx="894.2" cy="904.6" r="1.55"/><circle cx="907.6" cy="904.6" r="1.55"/><circle cx="900.9" cy="901" r="1.35"/></g>
<g fill="#101018"><path d="M928.25 1026.6L929.25 1018.2L926.15 1018.2L927.15 1026.6ZM927.15 1026.6L926.15 1035L929.25 1035L928.25 1026.6ZM927.96 1026.12L921.73 1021.63L920.27 1024.37L927.44 1027.08ZM927.96 1027.08L935.13 1024.37L933.67 1021.63L927.44 1026.12ZM927.44 1026.12L920.27 1028.83L921.73 1031.57L927.96 1027.08ZM927.44 1027.08L933.67 1031.57L935.13 1028.83L927.96 1026.12Z"/><circle cx="927.7" cy="1018.2" r="1.55"/><circle cx="927.7" cy="1035" r="1.55"/><circle cx="921" cy="1023" r="1.55"/><circle cx="934.4" cy="1023" r="1.55"/><circle cx="921" cy="1030.2" r="1.55"/><circle cx="934.4" cy="1030.2" r="1.55"/><circle cx="927.7" cy="1026.6" r="1.35"/></g>
<g fill="#101018"><path d="M1053.45 975.7L1054.45 967.3L1051.35 967.3L1052.35 975.7ZM1052.35 975.7L1051.35 984.1L1054.45 984.1L1053.45 975.7ZM1053.16 975.22L1046.93 970.73L1045.47 973.47L1052.64 976.18ZM1053.16 976.18L1060.33 973.47L1058.87 970.73L1052.64 975.22ZM1052.64 975.22L1045.47 977.93L1046.93 980.67L1053.16 976.18ZM1052.64 976.18L1058.87 980.67L1060.33 977.93L1053.16 975.22Z"/><circle cx="1052.9" cy="967.3" r="1.55"/><circle cx="1052.9" cy="984.1" r="1.55"/><circle cx="1046.2" cy="972.1" r="1.55"/><circle cx="1059.6" cy="972.1" r="1.55"/><circle cx="1046.2" cy="979.3" r="1.55"/><circle cx="1059.6" cy="979.3" r="1.55"/><circle cx="1052.9" cy="975.7" r="1.35"/></g>
<g fill="#101018"><path d="M1080.55 929.8L1081.55 921.4L1078.45 921.4L1079.45 929.8ZM1079.45 929.8L1078.45 938.2L1081.55 938.2L1080.55 929.8ZM1080.26 929.32L1074.03 924.83L1072.57 927.57L1079.74 930.28ZM1080.26 930.28L1087.43 927.57L1085.97 924.83L1079.74 929.32ZM1079.74 929.32L1072.57 932.03L1074.03 934.77L1080.26 930.28ZM1079.74 930.28L1085.97 934.77L1087.43 932.03L1080.26 929.32Z"/><circle cx="1080" cy="921.4" r="1.55"/><circle cx="1080" cy="938.2" r="1.55"/><circle cx="1073.3" cy="926.2" r="1.55"/><circle cx="1086.7" cy="926.2" r="1.55"/><circle cx="1073.3" cy="933.4" r="1.55"/><circle cx="1086.7" cy="933.4" r="1.55"/><circle cx="1080" cy="929.8" r="1.35"/></g>
<g fill="#101018"><path d="M1099.55 929.8L1100.55 921.4L1097.45 921.4L1098.45 929.8ZM1098.45 929.8L1097.45 938.2L1100.55 938.2L1099.55 929.8ZM1099.26 929.32L1093.03 924.83L1091.57 927.57L1098.74 930.28ZM1099.26 930.28L1106.43 927.57L1104.97 924.83L1098.74 929.32ZM1098.74 929.32L1091.57 932.03L1093.03 934.77L1099.26 930.28ZM1098.74 930.28L1104.97 934.77L1106.43 932.03L1099.26 929.32Z"/><circle cx="1099" cy="921.4" r="1.55"/><circle cx="1099" cy="938.2" r="1.55"/><circle cx="1092.3" cy="926.2" r="1.55"/><circle cx="1105.7" cy="926.2" r="1.55"/><circle cx="1092.3" cy="933.4" r="1.55"/><circle cx="1105.7" cy="933.4" r="1.55"/><circle cx="1099" cy="929.8" r="1.35"/></g>
<g fill="#101018"><path d="M1125.75 1132.5L1126.75 1124.1L1123.65 1124.1L1124.65 1132.5ZM1124.65 1132.5L1123.65 1140.9L1126.75 1140.9L1125.75 1132.5ZM1125.46 1132.02L1119.23 1127.53L1117.77 1130.27L1124.94 1132.98ZM1125.46 1132.98L1132.63 1130.27L1131.17 1127.53L1124.94 1132.02ZM1124.94 1132.02L1117.77 1134.73L1119.23 1137.47L1125.46 1132.98ZM1124.94 1132.98L1131.17 1137.47L1132.63 1134.73L1125.46 1132.02Z"/><circle cx="1125.2" cy="1124.1" r="1.55"/><circle cx="1125.2" cy="1140.9" r="1.55"/><circle cx="1118.5" cy="1128.9" r="1.55"/><circle cx="1131.9" cy="1128.9" r="1.55"/><circle cx="1118.5" cy="1136.1" r="1.55"/><circle cx="1131.9" cy="1136.1" r="1.55"/><circle cx="1125.2" cy="1132.5" r="1.35"/></g>
<text x="219" y="860" font-size="42" font-weight="bold">B</text>
<text transform="translate(40 1173) rotate(-90)" text-anchor="middle" font-size="40" font-weight="bold" letter-spacing="0.18">SOD Activity (U/mg/min)</text>
<text x="510" y="1523.2" font-size="40" font-weight="bold" letter-spacing="0.22">Exposure Time /d</text>
<rect x="1209.75" y="819.95" width="24.8" height="26.3" fill="url(#pDot)" stroke="#000" stroke-width="2.7"/>
<text x="1247" y="845.5" font-size="40.2">Control</text>
<rect x="1209.75" y="887.55" width="24.8" height="26.3" fill="url(#pDenseL)" stroke="#000" stroke-width="2.7"/>
<text x="1247" y="913.2" font-size="40.2">0.05 mg/L</text>
<rect x="1209.75" y="955.35" width="24.8" height="26.3" fill="url(#pBack)" stroke="#000" stroke-width="2.7"/>
<text x="1247" y="981" font-size="40.2">0.10 mg/L</text>
<rect x="1209.75" y="1022.95" width="24.8" height="26.3" fill="url(#pFwd)" stroke="#000" stroke-width="2.7"/>
<text x="1247" y="1048.7" font-size="40.2">0.15 mg/L</text>
</svg>
</body></html>
